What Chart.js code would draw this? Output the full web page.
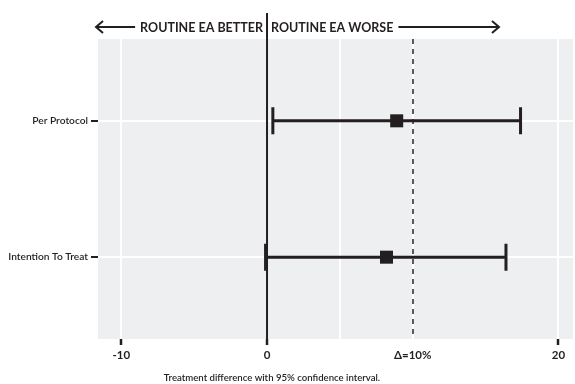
<!DOCTYPE html>
<html>
<head>
<meta charset="utf-8">
<script src="https://cdn.jsdelivr.net/npm/chart.js@4.4.0/dist/chart.umd.min.js"></script>
<style>
  html, body { margin: 0; padding: 0; background: #ffffff; }
  #wrap { width: 575px; height: 384px; position: relative; }
</style>
</head>
<body>
<div id="wrap"><canvas id="c" width="575" height="384"></canvas></div>
<script>
// Analysis populations (y positions: Per Protocol on top)
const populations = ['Intention To Treat', 'Per Protocol'];
const popIndex = [1, 2];
// Treatment difference (percentage points) with 95% CI
const estimate = [8.2, 8.9];
const ciLower = [-0.1, 0.4];
const ciUpper = [16.4, 17.4];
// x-axis breaks and their labels
const xBreaks = [-10, 0, 5, 10, 20];
const xLabels = ['-10', '0', '', 'Δ=10%', '20'];
const margin = 10;

const FONT = 'Lato, "Noto Sans", sans-serif';
const INK = '#231f20';

const points = popIndex.map((y, i) => ({ x: estimate[i], y: y }));

// Whiskers, reference lines and header annotation
const forestPlugin = {
  id: 'forest',
  beforeDatasetsDraw(chart) {
    const { ctx, scales: { x, y }, chartArea: a } = chart;
    ctx.save();
    // non-inferiority margin
    ctx.strokeStyle = '#5a5a5a';
    ctx.lineWidth = 2;
    ctx.setLineDash([5, 5]);
    const xm = Math.round(x.getPixelForValue(margin));
    ctx.beginPath();
    ctx.moveTo(xm, a.top);
    ctx.lineTo(xm, a.bottom);
    ctx.stroke();
    ctx.setLineDash([]);
    // no-difference line
    const x0 = x.getPixelForValue(0);
    ctx.strokeStyle = INK;
    ctx.lineWidth = 2;
    ctx.beginPath();
    ctx.moveTo(x0, 13);
    ctx.lineTo(x0, a.bottom);
    ctx.stroke();
    // confidence intervals
    ctx.lineWidth = 3;
    ctx.lineCap = 'butt';
    popIndex.forEach((v, i) => {
      const py = y.getPixelForValue(v);
      const xl = x.getPixelForValue(ciLower[i]);
      const xu = x.getPixelForValue(ciUpper[i]);
      ctx.beginPath();
      ctx.moveTo(xl, py);
      ctx.lineTo(xu, py);
      ctx.moveTo(xl, py - 13.5);
      ctx.lineTo(xl, py + 13.5);
      ctx.moveTo(xu, py - 13.5);
      ctx.lineTo(xu, py + 13.5);
      ctx.stroke();
    });
    ctx.restore();
  },
  afterDraw(chart) {
    const { ctx, scales: { x } } = chart;
    const x0 = x.getPixelForValue(0);
    const ty = 27;
    ctx.save();
    ctx.fillStyle = INK;
    ctx.strokeStyle = INK;
    ctx.font = 'bold 12.5px ' + FONT;
    ctx.textBaseline = 'middle';
    ctx.textAlign = 'right';
    const leftTxt = 'ROUTINE EA BETTER';
    const rightTxt = 'ROUTINE EA WORSE';
    ctx.fillText(leftTxt, x0 - 4, ty + 1);
    ctx.textAlign = 'left';
    ctx.fillText(rightTxt, x0 + 4, ty + 1);
    const lw = ctx.measureText(leftTxt).width;
    const rw = ctx.measureText(rightTxt).width;
    ctx.lineWidth = 2;
    // left arrow
    const lStart = x0 - 4 - lw - 5;
    const lEnd = 96;
    ctx.beginPath();
    ctx.moveTo(lStart, ty);
    ctx.lineTo(lEnd, ty);
    ctx.moveTo(lEnd + 7, ty - 6);
    ctx.lineTo(lEnd, ty);
    ctx.lineTo(lEnd + 7, ty + 6);
    ctx.stroke();
    // right arrow
    const rStart = x0 + 4 + rw + 5;
    const rEnd = 499;
    ctx.beginPath();
    ctx.moveTo(rStart, ty);
    ctx.lineTo(rEnd, ty);
    ctx.moveTo(rEnd - 7, ty - 6);
    ctx.lineTo(rEnd, ty);
    ctx.lineTo(rEnd - 7, ty + 6);
    ctx.stroke();
    // axis caption
    ctx.font = '600 9.6px ' + FONT;
    ctx.textAlign = 'center';
    ctx.textBaseline = 'alphabetic';
    ctx.fillText('Treatment difference with 95% confidence interval.', 272, 381);
    ctx.restore();
  }
};

// Panel background
const panelPlugin = {
  id: 'panel',
  beforeDraw(chart) {
    const { ctx, chartArea: a } = chart;
    ctx.save();
    ctx.fillStyle = '#eeeff1';
    ctx.fillRect(a.left, a.top, a.right - a.left, a.bottom - a.top);
    ctx.restore();
  }
};

new Chart(document.getElementById('c'), {
  type: 'scatter',
  data: {
    datasets: [{
      data: points,
      pointStyle: 'rect',
      pointRadius: 9.2,
      pointHoverRadius: 9.2,
      backgroundColor: INK,
      borderColor: INK,
      borderWidth: 0
    }]
  },
  plugins: [panelPlugin, forestPlugin],
  options: {
    responsive: false,
    animation: false,
    events: [],
    layout: { autoPadding: false, padding: { top: 39, right: 2, left: 0, bottom: 0 } },
    plugins: { legend: { display: false }, tooltip: { enabled: false } },
    scales: {
      x: {
        type: 'linear',
        min: -11.6,
        max: 21.0,
        border: { display: false },
        afterBuildTicks(scale) {
          scale.ticks = xBreaks.map(v => ({ value: v }));
        },
        afterFit(scale) {
          scale.height = 45;
          scale.paddingLeft = 0;
          scale.paddingRight = 0;
        },
        grid: {
          color: '#ffffff',
          lineWidth: 2,
          drawOnChartArea: true,
          tickLength: 6,
          tickWidth: 2.5,
          tickColor: c => (c.tick && (c.tick.value === 5 || c.tick.value === 10)) ? 'rgba(0,0,0,0)' : INK
        },
        ticks: {
          autoSkip: false,
          maxRotation: 0,
          padding: 3,
          color: INK,
          font: { family: FONT, size: 11.5, weight: 'bold' },
          callback: (v) => xLabels[xBreaks.indexOf(v)]
        }
      },
      y: {
        type: 'linear',
        min: 0.4,
        max: 2.6,
        border: { display: false },
        afterBuildTicks(scale) {
          scale.ticks = popIndex.map(v => ({ value: v }));
        },
        afterFit(scale) {
          scale.width = 98;
          scale.paddingTop = 0;
          scale.paddingBottom = 0;
        },
        grid: {
          color: '#ffffff',
          lineWidth: 2,
          tickLength: 7,
          tickWidth: 2,
          tickColor: INK
        },
        ticks: {
          padding: 3,
          color: INK,
          font: { family: FONT, size: 10.2, weight: '600' },
          callback: (v) => populations[popIndex.indexOf(v)]
        }
      }
    }
  }
});
</script>
</body>
</html>
